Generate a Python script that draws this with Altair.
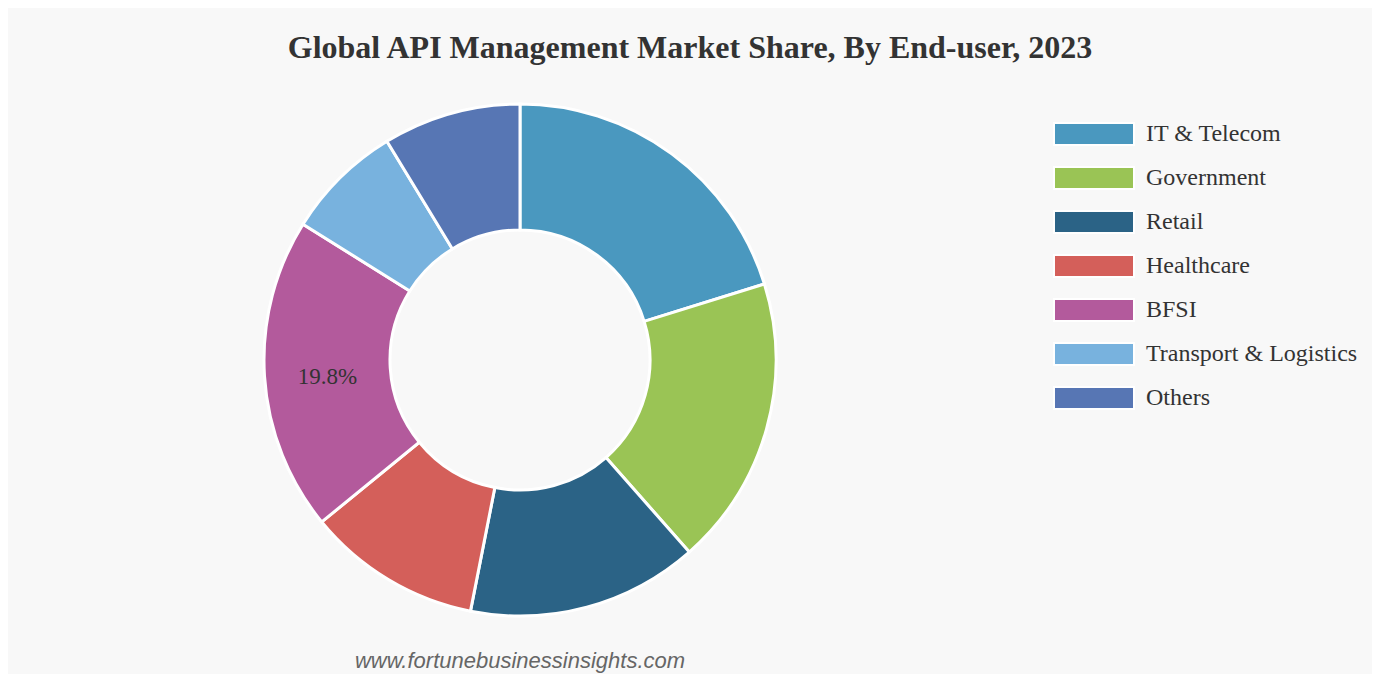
import altair as alt
import pandas as pd

categories = ["IT & Telecom", "Government", "Retail", "Healthcare", "BFSI",
              "Transport & Logistics", "Others"]
shares = [20.2, 18.3, 14.6, 11.0, 19.8, 7.4, 8.7]
labels = ["", "", "", "", "19.8%", "", ""]
colors = ["#4a98bf", "#9ac455", "#2b6386", "#d45f5a", "#b35a9c", "#78b2de", "#5776b4"]
title_text = "Global API Management Market Share, By End-user, 2023"
source_text = ["www.fortunebusinessinsights.com"]

df = pd.DataFrame({"category": categories, "share": shares,
                   "label": labels, "idx": list(range(len(categories)))})
src = pd.DataFrame({"t": source_text})

CX, CY = 512, 283
R_OUT, R_IN = 256, 130

color = alt.Color(
    "category:N",
    sort=categories,
    scale=alt.Scale(domain=categories, range=colors),
    legend=alt.Legend(
        title=None,
        orient="none",
        legendX=1074,
        legendY=45,
        padding=0,
        symbolType="M-4,-1.1H4V1.1H-4Z",
        symbolSize=400,
        symbolStrokeColor="white",
        symbolStrokeWidth=2,
        symbolOpacity=1,
        labelFont="Liberation Serif",
        labelFontSize=24,
        labelColor="#333333",
        labelOffset=40,
        rowPadding=14,
        labelLimit=400,
    ),
)

base = alt.Chart(df).encode(
    theta=alt.Theta("share:Q", stack=True),
    order=alt.Order("idx:Q"),
)

arcs = base.mark_arc(innerRadius=R_IN, outerRadius=R_OUT, stroke="white",
                     strokeWidth=3).encode(
    color=color, x=alt.value(CX), y=alt.value(CY))

text = base.mark_text(radius=(R_IN + R_OUT) / 2, font="Liberation Serif",
                      fontSize=23, color="#333333", dy=5).encode(
    text="label:N", x=alt.value(CX), y=alt.value(CY))

source = alt.Chart(src).mark_text(font="Liberation Sans", fontStyle="italic",
                                  fontSize=22, color="#666666").encode(
    text="t:N", x=alt.value(CX), y=alt.value(CY + 301))

chart = alt.layer(arcs, text, source).properties(
    width=1364,
    height=666,
    autosize=alt.AutoSizeParams(type="fit", contains="padding"),
    padding={"top": 24, "left": 0, "right": 0, "bottom": 0},
    background="#f8f8f8",
    title=alt.TitleParams(title_text, font="Liberation Serif", fontSize=32,
                          fontWeight="bold", color="#333333", anchor="middle",
                          offset=16, dy=4),
).configure_view(stroke=None)

chart.save("out.html", embed_options={"renderer": "svg", "actions": False})
